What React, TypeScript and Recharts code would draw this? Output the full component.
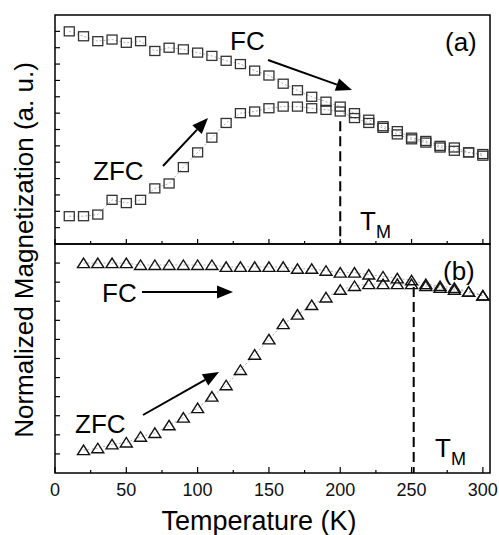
import React from "react";
import { ComposedChart, Line, XAxis, YAxis, ReferenceArea, ReferenceLine } from "recharts";

// panel (a): squares, 10 K steps
const tempA = [10, 20, 30, 40, 50, 60, 70, 80, 90, 100, 110, 120, 130, 140, 150, 160, 170, 180, 190, 200, 210, 220, 230, 240, 250, 260, 270, 280, 290, 300];
const fcA = [1.3, 1.27, 1.24, 1.25, 1.23, 1.24, 1.18, 1.2, 1.19, 1.17, 1.15, 1.12, 1.1, 1.06, 1.03, 0.98, 0.94, 0.9, 0.87, 0.84, 0.8, 0.76, 0.72, 0.69, 0.65, 0.63, 0.6, 0.59, 0.56, 0.55];
const zfcA = [0.17, 0.17, 0.18, 0.27, 0.25, 0.27, 0.34, 0.37, 0.47, 0.56, 0.65, 0.74, 0.8, 0.81, 0.83, 0.84, 0.84, 0.83, 0.82, 0.81, 0.77, 0.74, 0.71, 0.67, 0.64, 0.62, 0.59, 0.57, 0.56, 0.54];

// panel (b): triangles
const tempB = [20, 30, 40, 50, 60, 70, 80, 90, 100, 110, 120, 130, 140, 150, 160, 170, 180, 190, 200, 210, 220, 230, 240, 250, 260, 270, 280, 290, 300];
const fcB = [1.1, 1.1, 1.1, 1.1, 1.09, 1.09, 1.09, 1.09, 1.09, 1.09, 1.08, 1.08, 1.08, 1.08, 1.08, 1.07, 1.07, 1.06, 1.05, 1.05, 1.04, 1.03, 1.02, 1.01, 0.99, 0.98, 0.97, 0.95, 0.93];
const zfcB = [0.12, 0.13, 0.15, 0.16, 0.19, 0.21, 0.25, 0.29, 0.34, 0.4, 0.46, 0.54, 0.62, 0.7, 0.78, 0.83, 0.88, 0.92, 0.96, 0.98, 0.99, 0.99, 0.99, 0.99, 0.98, 0.97, 0.96, 0.95, 0.93];

const xTicks = [0, 25, 50, 75, 100, 125, 150, 175, 200, 225, 250, 275, 300];
const yTicksA = [0.1, 0.2, 0.3, 0.4, 0.5, 0.6, 0.7, 0.8, 0.9, 1.0, 1.1, 1.2, 1.3];
const yTicksB = [0.1, 0.2, 0.3, 0.4, 0.5, 0.6, 0.7, 0.8, 0.9, 1.0, 1.1];
const tmA = 200;
const tmB = 251.5;

const dataA = tempA.map((t, i) => ({ t, fc: fcA[i], zfc: zfcA[i] }));
const dataB = tempB.map((t, i) => ({ t, fc: fcB[i], zfc: zfcB[i] }));

const FONT = "'Liberation Sans', Arial, sans-serif";

const LeftTick = (p: any) => (
  <line x1={p.x} y1={p.y} x2={p.x + 5} y2={p.y} stroke="#000" strokeWidth={1.2} />
);

const UpTick = (p: any) => {
  const major = p.payload.value % 50 === 0;
  return <line x1={p.x} y1={p.y} x2={p.x} y2={p.y - (major ? 5 : 3)} stroke="#000" strokeWidth={1.2} />;
};

const LabelTick = (p: any) => {
  const major = p.payload.value % 50 === 0;
  return (
    <g>
      <line x1={p.x} y1={p.y} x2={p.x} y2={p.y - (major ? 6 : 3)} stroke="#000" strokeWidth={1.2} />
      {major && (
        <text x={p.x} y={p.y + 23} textAnchor="middle" fontSize={18} fontFamily={FONT} fill="#111">
          {p.payload.value}
        </text>
      )}
    </g>
  );
};

const squareDot = (p: any) => (
  <rect key={`sq-${p.index}`} x={p.cx - 5} y={p.cy - 4.5} width={10} height={9} fill="none" stroke="#333" strokeWidth={1.3} />
);

const triDot = (p: any) => (
  <polygon
    key={`tr-${p.index}`}
    points={`${p.cx - 6},${p.cy + 4.5} ${p.cx + 6},${p.cy + 4.5} ${p.cx},${p.cy - 5}`}
    fill="none"
    stroke="#111"
    strokeWidth={1.4}
  />
);

function Arrow({ x1, y1, x2, y2 }: { x1: number; y1: number; x2: number; y2: number }) {
  const a = Math.atan2(y2 - y1, x2 - x1);
  const L = 16;
  const W = 6.5;
  const bx = x2 - L * Math.cos(a);
  const by = y2 - L * Math.sin(a);
  const pts = `${x2},${y2} ${bx + W * Math.sin(a)},${by - W * Math.cos(a)} ${bx - W * Math.sin(a)},${by + W * Math.cos(a)}`;
  return (
    <g>
      <line x1={x1} y1={y1} x2={bx} y2={by} stroke="#000" strokeWidth={2} />
      <polygon points={pts} fill="#000" />
    </g>
  );
}

export default function App() {
  const lineProps = {
    type: "linear" as const,
    stroke: "#999",
    strokeWidth: 0.8,
    strokeDasharray: "2 2",
    activeDot: false,
    isAnimationActive: false,
  };
  return (
    <div style={{ position: "absolute", left: 0, top: 0, width: 499, height: 535, background: "#fff" }}>
      <div style={{ position: "absolute", left: 0, top: 0 }}>
        <ComposedChart width={499} height={250} data={dataA} margin={{ top: 15, right: 9, bottom: 5, left: 54 }}>
          <XAxis type="number" dataKey="t" domain={[0, 305]} ticks={xTicks} interval={0} height={1} tickSize={0} tickMargin={0} axisLine={false} tickLine={false} tick={UpTick} />
          <YAxis type="number" domain={[0, 1.4]} ticks={yTicksA} interval={0} width={1} tickSize={0} tickMargin={0} axisLine={false} tickLine={false} tick={LeftTick} />
          <ReferenceArea x1={0} x2={305} y1={0} y2={1.4} fill="none" fillOpacity={0} stroke="#000" strokeWidth={1.5} />
          <ReferenceLine segment={[{ x: tmA, y: 0.75 }, { x: tmA, y: 0 }]} stroke="#000" strokeWidth={2} strokeDasharray="10 5" />
          <Line {...lineProps} dataKey="fc" dot={squareDot} />
          <Line {...lineProps} dataKey="zfc" dot={squareDot} />
        </ComposedChart>
      </div>
      <div style={{ position: "absolute", left: 0, top: 0 }}>
        <ComposedChart width={499} height={535} data={dataB} margin={{ top: 244, right: 9, bottom: 61, left: 54 }}>
          <XAxis type="number" dataKey="t" domain={[0, 305]} ticks={xTicks} interval={0} height={1} tickSize={0} tickMargin={0} axisLine={false} tickLine={false} tick={LabelTick} />
          <YAxis type="number" domain={[0, 1.2]} ticks={yTicksB} interval={0} width={1} tickSize={0} tickMargin={0} axisLine={false} tickLine={false} tick={LeftTick} />
          <ReferenceArea x1={0} x2={305} y1={0} y2={1.2} fill="none" fillOpacity={0} stroke="#000" strokeWidth={1.5} />
          <ReferenceLine segment={[{ x: tmB, y: 0.975 }, { x: tmB, y: 0 }]} stroke="#000" strokeWidth={2} strokeDasharray="10 5" />
          <Line {...lineProps} dataKey="fc" dot={triDot} />
          <Line {...lineProps} dataKey="zfc" dot={triDot} />
        </ComposedChart>
      </div>
      <svg width={499} height={535} style={{ position: "absolute", left: 0, top: 0, pointerEvents: "none" }} fontFamily={FONT} fill="#000">
        <text x={33} y={250} fontSize={26} textAnchor="middle" transform="rotate(-90 33 250)">
          Normalized Magnetization (a. u.)
        </text>
        <text x={259} y={530} fontSize={27} textAnchor="middle">
          Temperature (K)
        </text>
        {/* panel a */}
        <text x={230} y={50} fontSize={26}>FC</text>
        <text x={445} y={51} fontSize={26}>(a)</text>
        <text x={93} y={180} fontSize={26}>ZFC</text>
        <text x={360} y={230} fontSize={26}>T</text>
        <text x={376} y={238} fontSize={18}>M</text>
        <Arrow x1={268} y1={60} x2={352} y2={90} />
        <Arrow x1={163} y1={166} x2={208} y2={118} />
        {/* panel b */}
        <text x={443} y={280} fontSize={26}>(b)</text>
        <text x={102} y={302} fontSize={26}>FC</text>
        <text x={75} y={433} fontSize={26}>ZFC</text>
        <text x={435} y={457} fontSize={26}>T</text>
        <text x={451} y={465} fontSize={18}>M</text>
        <Arrow x1={142} y1={292} x2={233} y2={292} />
        <Arrow x1={143} y1={415} x2={219} y2={372} />
      </svg>
    </div>
  );
}
